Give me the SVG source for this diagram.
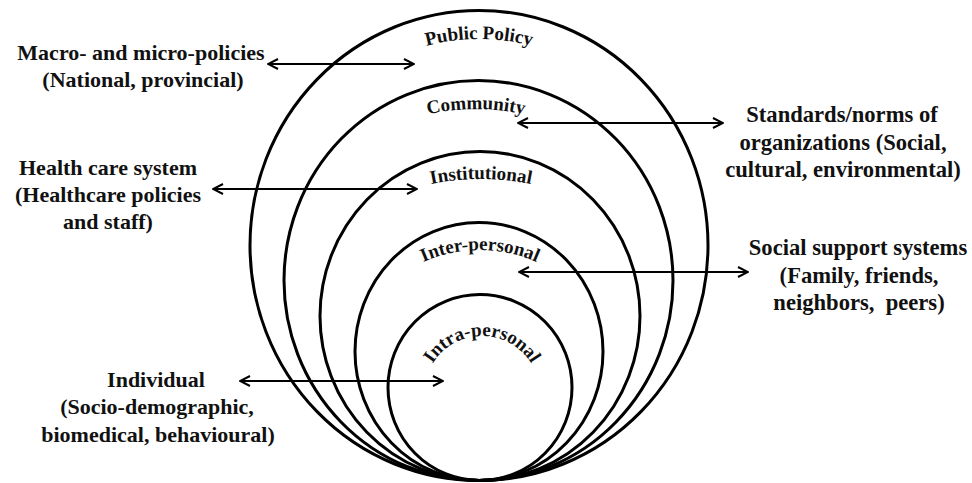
<svg xmlns="http://www.w3.org/2000/svg" xmlns:xlink="http://www.w3.org/1999/xlink" width="972" height="483" viewBox="0 0 972 483">
  <style>
    .ring { fill: none; stroke: #000; stroke-width: 3; }
    text { font-family: 'Liberation Serif', 'Times New Roman', Times, serif; font-weight: 700; fill: #111; }
    .lvl { font-size: 19px; }
    .side { font-size: 22px; text-anchor: middle; }
    .wide { font-size: 22.6px; }
    .link { fill: none; stroke: #000; stroke-width: 2; marker-start: url(#head); marker-end: url(#head); }
  </style>
  <defs>
    <marker id="head" viewBox="0 0 12 12" refX="11" refY="6" markerWidth="12" markerHeight="12" orient="auto-start-reverse" markerUnits="userSpaceOnUse">
      <path d="M1,1 L11,6 L1,11" fill="none" stroke="#000" stroke-width="2"/>
    </marker>
    <!-- baselines for the curved level names -->
    <path id="arcPolicy" d="M272.5,245.5 A206.5,206.5 0 0 1 685.5,245.5"/>
    <path id="arcCommunity" d="M256,329 A220,220 0 0 1 696,329"/>
    <path id="arcInstitutional" d="M231,429 A250,250 0 0 1 731,429"/>
    <path id="arcInterpersonal" d="M340,390 A140,140 0 0 1 620,390"/>
    <path id="arcIntrapersonal" d="M424,394 A58,58 0 0 1 540,394"/>
  </defs>
  <rect width="972" height="483" fill="#fff"/>

  <!-- nested levels, all touching at the bottom -->
  <g id="public-policy">
    <ellipse class="ring" cx="479" cy="245.5" rx="229" ry="235"/>
    <text class="lvl"><textPath xlink:href="#arcPolicy" href="#arcPolicy" startOffset="50%" text-anchor="middle">Public Policy</textPath></text>
  </g>
  <g id="community">
    <ellipse class="ring" cx="478.5" cy="280.5" rx="194.5" ry="200"/>
    <text class="lvl"><textPath xlink:href="#arcCommunity" href="#arcCommunity" startOffset="50%" text-anchor="middle">Community</textPath></text>
  </g>
  <g id="institutional">
    <ellipse class="ring" cx="480" cy="316" rx="160" ry="164.5"/>
    <text class="lvl"><textPath xlink:href="#arcInstitutional" href="#arcInstitutional" startOffset="50%" text-anchor="middle">Institutional</textPath></text>
  </g>
  <g id="inter-personal">
    <ellipse class="ring" cx="479" cy="351.5" rx="124" ry="129"/>
    <text class="lvl"><textPath xlink:href="#arcInterpersonal" href="#arcInterpersonal" startOffset="50%" text-anchor="middle">Inter-personal</textPath></text>
  </g>
  <g id="intra-personal">
    <ellipse class="ring" cx="480" cy="387.5" rx="92" ry="93"/>
    <text class="lvl"><textPath xlink:href="#arcIntrapersonal" href="#arcIntrapersonal" startOffset="50%" text-anchor="middle">Intra-personal</textPath></text>
  </g>

  <!-- side descriptions -->
  <g id="policies-note">
    <text class="side" x="141" y="60">Macro- and micro-policies</text>
    <text class="side" x="143" y="87">(National, provincial)</text>
  </g>
  <g id="health-note">
    <text class="side" x="108" y="175">Health care system</text>
    <text class="side" x="108" y="202">(Healthcare policies</text>
    <text class="side" x="108" y="229">and staff)</text>
  </g>
  <g id="individual-note">
    <text class="side" x="156" y="387">Individual</text>
    <text class="side" x="157" y="414">(Socio-demographic,</text>
    <text class="side" x="158" y="442">biomedical, behavioural)</text>
  </g>
  <g id="norms-note">
    <text class="side wide" x="842" y="122">Standards/norms of</text>
    <text class="side wide" x="843" y="150">organizations (Social,</text>
    <text class="side wide" x="843" y="177">cultural, environmental)</text>
  </g>
  <g id="support-note">
    <text class="side wide" x="858" y="255">Social support systems</text>
    <text class="side wide" x="859" y="283">(Family, friends,</text>
    <text class="side wide" x="859" y="310" xml:space="preserve">neighbors,  peers)</text>
  </g>

  <!-- two-way connectors between notes and levels -->
  <g id="connectors">
    <line class="link" x1="268" y1="64" x2="414" y2="64"/>
    <line class="link" x1="518" y1="123" x2="723" y2="123"/>
    <line class="link" x1="213" y1="189" x2="417" y2="189"/>
    <line class="link" x1="519" y1="272" x2="748" y2="272"/>
    <line class="link" x1="240" y1="381" x2="443" y2="381"/>
  </g>
</svg>
